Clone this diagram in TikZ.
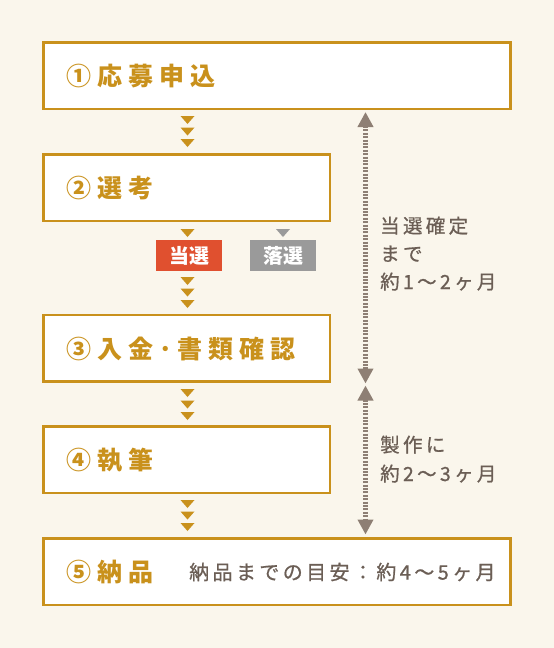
\documentclass[tikz,border=0pt]{standalone}
\usepackage{fontspec}
\usetikzlibrary{arrows.meta,calc}
\newfontfamily\jp{Noto Sans CJK JP}
\newfontfamily\jphead{Noto Sans CJK JP}[LetterSpace=24]
\newfontfamily\jpside{Noto Sans CJK JP}[LetterSpace=17,FakeBold=0.8]
\definecolor{bg}{HTML}{FAF6EC}
\definecolor{gold}{HTML}{C9911C}
\definecolor{txt}{HTML}{6B5E55}
\definecolor{arr}{HTML}{8E7F74}
\definecolor{win}{HTML}{E0502F}
\definecolor{lose}{HTML}{9A9A9A}
\tikzset{
  stepbox/.style={draw=gold, line width=2.5pt, fill=white, minimum height=66.5pt, inner sep=0pt},
  title/.style={anchor=west, text=gold, font=\jphead\bfseries\fontsize{25}{25}\selectfont, inner sep=0pt},
  side/.style={anchor=base west, text=txt, font=\jpside\fontsize{19.5}{19.5}\selectfont, inner sep=0pt},
  tag/.style={minimum width=66pt, minimum height=31pt, inner sep=0pt, text=white, font=\jp\bfseries\fontsize{20}{20}\selectfont},
  span/.style={draw=arr, line width=5pt, dash pattern=on 2pt off 1.4pt,
    {Triangle[width=15pt,length=15pt]}-{Triangle[width=15pt,length=15pt]}},
  chev/.pic={\fill[pic actions] (-7,0) -- (7,0) -- (0,8) -- cycle;},
}
\begin{document}
\begin{tikzpicture}[x=1pt,y=-1pt]
\fill[bg] (0,0) rectangle (554,648);
\useasboundingbox (0,0) rectangle (554,648);

% boxes
\node[stepbox, minimum width=467pt] (s1) at (276.75,75.5) {};
\node[stepbox, minimum width=286.5pt] (s2) at (186.75,187.5) {};
\node[stepbox, minimum width=286.5pt] (s3) at (186.75,348) {};
\node[stepbox, minimum width=286.5pt] (s4) at (186.75,459.5) {};
\node[stepbox, minimum width=467pt] (s5) at (276.75,571.5) {};

% titles
\node[title] (t1) at (66,76) {①応募申込};
\node[title] (t2) at (66,188) {②選考};
\node[title] (t3) at (66,348.5) {③入金･書類確認};
\node[title] (t4) at (66,460) {④執筆};
\node[title] (t5) at (66,572) {⑤納品};
\node[anchor=west, text=txt, font=\jpside\fontsize{20}{20}\selectfont, inner sep=0pt] (d5) at (189,572) {納品までの目安：約4〜5ヶ月};

% chevrons
\foreach \k in {0,1,2} \pic[gold] at (187.5,116+11.5*\k) {chev};
\pic[gold] at (187.5,229) {chev};
\pic[lose] at (283,229) {chev};
\foreach \k in {0,1,2} \pic[gold] at (187.5,277+11.5*\k) {chev};
\foreach \k in {0,1,2} \pic[gold] at (187.5,389+11.5*\k) {chev};
\foreach \k in {0,1,2} \pic[gold] at (187.5,500+11.5*\k) {chev};

% tags
\node[tag, fill=win] (win) at (189,255.5) {当選};
\node[tag, fill=lose] (lose) at (283,255.5) {落選};

% span arrows
\coordinate (a1) at (365.5,112);
\coordinate (a2) at (365.5,383.5);
\coordinate (a3) at (365.5,385.5);
\coordinate (a4) at (365.5,534.5);
\draw[span] (a1) -- (a2);
\draw[span] (a3) -- (a4);

% side texts
\node[side] (l1) at (380,233) {当選確定};
\node[side] (l2) at (380,261) {まで};
\node[side] (l3) at (380,289) {約1〜2ヶ月};
\node[side] (l4) at (380,452) {製作に};
\node[side] (l5) at (380,481) {約2〜3ヶ月};
\end{tikzpicture}
\end{document}
